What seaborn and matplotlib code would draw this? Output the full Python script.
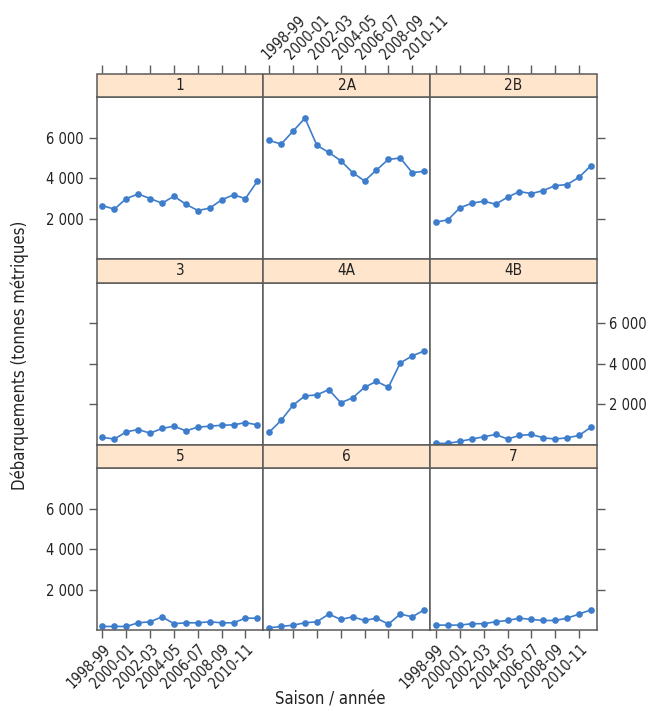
import matplotlib
matplotlib.use("Agg")
import matplotlib.pyplot as plt
from matplotlib.patches import Rectangle
from matplotlib.ticker import FuncFormatter, FixedLocator
import seaborn as sns
import pandas as pd

seasons = ["1998-99", "1999-00", "2000-01", "2001-02", "2002-03", "2003-04",
           "2004-05", "2005-06", "2006-07", "2007-08", "2008-09", "2009-10",
           "2010-11", "2011-12"]
zones = ["1", "2A", "2B", "3", "4A", "4B", "5", "6", "7"]

z1 = [2640, 2460, 2985, 3210, 2985, 2755, 3100, 2705, 2395, 2510, 2920, 3165, 2985, 3840]
z2A = [5855, 5675, 6315, 6955, 5610, 5265, 4855, 4265, 3855, 4395, 4920, 4985, 4265, 4330]
z2B = [1820, 1935, 2525, 2755, 2855, 2705, 3050, 3330, 3230, 3380, 3625, 3675, 4035, 4610]
z3 = [360, 280, 635, 750, 570, 800, 915, 685, 865, 915, 960, 980, 1090, 980]
z4A = [620, 1205, 1955, 2410, 2460, 2720, 2070, 2315, 2835, 3130, 2835, 4040, 4385, 4630]
z4B = [65, 65, 165, 280, 390, 505, 280, 455, 505, 340, 280, 340, 455, 865]
z5 = [195, 195, 195, 375, 425, 670, 330, 375, 375, 425, 375, 375, 605, 605]
z6 = [130, 195, 260, 375, 425, 805, 540, 670, 490, 605, 310, 805, 670, 1015]
z7 = [260, 260, 260, 330, 330, 425, 490, 605, 540, 490, 490, 605, 805, 1015]

values = {"1": z1, "2A": z2A, "2B": z2B, "3": z3, "4A": z4A, "4B": z4B,
          "5": z5, "6": z6, "7": z7}

tick_idx = [0, 2, 4, 6, 8, 10, 12]
tick_labels = [seasons[i] for i in tick_idx]
y_ticks = [2000, 4000, 6000]

rows = []
for z in zones:
    for i, v in enumerate(values[z]):
        rows.append({"zone": z, "idx": i, "val": v})
df = pd.DataFrame(rows)

sns.set_theme(style="ticks")
plt.rcParams["font.family"] = ["DejaVu Sans"]
plt.rcParams["font.stretch"] = "condensed"

LINE = "#3d7dcc"
EDGE = "#5a5a5a"
STRIP = "#FFE5CC"
TXT = "#222222"

g = sns.FacetGrid(df, col="zone", col_wrap=3, col_order=zones,
                  sharex=True, sharey=True, height=2, aspect=1)
g.map_dataframe(sns.lineplot, x="idx", y="val", color=LINE, marker="o",
                markersize=4.8, markeredgewidth=0, linewidth=1.2)
g.set_titles("")
g.set_axis_labels("", "")
fig = g.figure
fig.set_size_inches(6.49, 7.11)

W, H = 649.0, 711.0
left0 = 96.5
colw = 166.8
rowh = 185.7
strip_h = 23.5
panel_h = 162.0
fmt = FuncFormatter(lambda v, p: f"{int(v):,}".replace(",", " "))

for i, ax in enumerate(g.axes.flat):
    r, c = divmod(i, 3)
    z = zones[i]
    ptop = 97 + r * rowh
    ax.set_position([(left0 + c * colw) / W, 1 - (ptop + panel_h) / H,
                     colw / W, panel_h / H])
    ax.set_xlim(-0.5, 13.5)
    ax.set_ylim(0, 8000)
    ax.set_xlabel("")
    ax.set_ylabel("")
    for s in ax.spines.values():
        s.set_visible(True)
        s.set_color(EDGE)
        s.set_linewidth(1.1)

    # strip
    sh = strip_h / panel_h
    ax.add_patch(Rectangle((0, 1), 1, sh, transform=ax.transAxes,
                           clip_on=False, facecolor=STRIP, edgecolor=EDGE,
                           linewidth=1.1, zorder=5))
    ax.text(0.5, 1 + sh / 2, z, transform=ax.transAxes, ha="center",
            va="center", fontsize=11, color=TXT, zorder=6)

    # y axis
    ax.yaxis.set_major_locator(FixedLocator(y_ticks))
    ax.yaxis.set_major_formatter(fmt)
    ax.tick_params(axis="y", direction="out", length=6, width=1,
                   color=EDGE, labelsize=10.5, labelcolor=TXT, pad=3,
                   left=(c == 0), right=(c == 2),
                   labelleft=(c == 0 and r != 1),
                   labelright=(c == 2 and r == 1))

    # x axis
    ax.xaxis.set_major_locator(FixedLocator(tick_idx))
    if r == 2:
        ax.tick_params(axis="x", direction="out", length=6, width=1,
                       color=EDGE, bottom=True, top=False,
                       labelbottom=(c != 1), labeltop=False,
                       labelsize=10.5, labelcolor=TXT, pad=2)
        ax.set_xticks(tick_idx)
        ax.set_xticklabels(tick_labels if c != 1 else [""] * len(tick_idx),
                           rotation=45, ha="right", va="top",
                           rotation_mode="anchor")
    else:
        ax.tick_params(axis="x", bottom=False, top=False,
                       labelbottom=False, labeltop=False)
    if r == 0:
        sec = ax.secondary_xaxis(1 + sh)
        sec.set_xticks(tick_idx)
        sec.set_xticklabels(tick_labels if c == 1 else [""] * len(tick_idx),
                            rotation=45, ha="left", va="bottom",
                            rotation_mode="anchor")
        sec.tick_params(axis="x", direction="out", length=6, width=1,
                        color=EDGE, labelsize=10.5, labelcolor=TXT, pad=2)
        sec.spines["top"].set_visible(False)
        sec.spines["bottom"].set_visible(False)

fig.text(20 / W, 1 - 355 / H, "Débarquements (tonnes métriques)",
         rotation=90, ha="center", va="center", fontsize=12,
         color=TXT)
fig.text(330 / W, 1 - 699 / H, "Saison / année", ha="center",
         va="center", fontsize=12, color=TXT)

fig.savefig("out.png", dpi=100)
